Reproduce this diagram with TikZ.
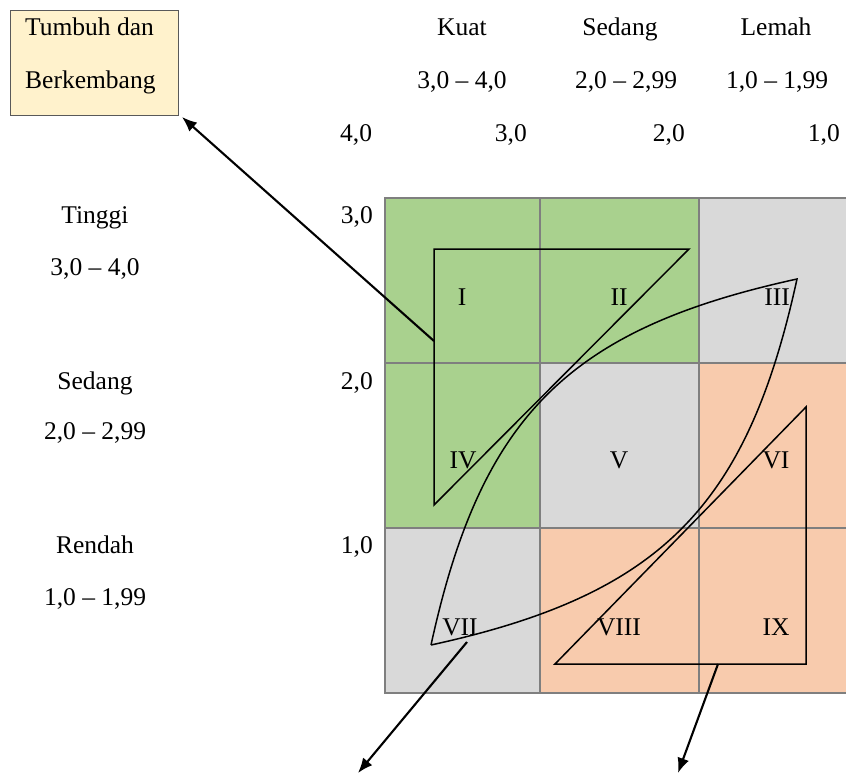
\documentclass[tikz,border=0pt]{standalone}
\usepackage{fontspec}
\setmainfont{Liberation Serif}
\usetikzlibrary{arrows.meta}
\definecolor{cgreen}{HTML}{A9D18E}
\definecolor{cgrey}{HTML}{D9D9D9}
\definecolor{cpeach}{HTML}{F8CBAD}
\definecolor{gridc}{HTML}{7F7F7F}
\definecolor{boxfill}{HTML}{FFF2CC}
\definecolor{boxline}{HTML}{595959}
\begin{document}
\begin{tikzpicture}[x=1pt,y=-1pt,
  font=\fontsize{25.5}{30}\selectfont,
  lbl/.style={inner sep=0pt, anchor=base},
  lblr/.style={inner sep=0pt, anchor=base east},
  lbll/.style={inner sep=0pt, anchor=base west},
  cell/.style={draw=gridc, line width=1.6pt},
  outline/.style={line width=1.5pt, line join=miter},
  arr/.style={line width=2.1pt, -{Latex[length=15pt,width=12pt]}}]
\useasboundingbox (0,0) rectangle (846,774);

% grid cells
\begin{scope}
\clip (0,0) rectangle (846,774);
\filldraw[cell, fill=cgreen] (385,198) rectangle (540,363);
\filldraw[cell, fill=cgreen] (540,198) rectangle (699,363);
\filldraw[cell, fill=cgrey]  (699,198) rectangle (858,363);
\filldraw[cell, fill=cgreen] (385,363) rectangle (540,528);
\filldraw[cell, fill=cgrey]  (540,363) rectangle (699,528);
\filldraw[cell, fill=cpeach] (699,363) rectangle (858,528);
\filldraw[cell, fill=cgrey]  (385,528) rectangle (540,693);
\filldraw[cell, fill=cpeach] (540,528) rectangle (699,693);
\filldraw[cell, fill=cpeach] (699,528) rectangle (858,693);
\end{scope}

% legend box
\node[draw=boxline, fill=boxfill, line width=0.9pt, minimum width=168pt, minimum height=105pt, inner sep=0pt, anchor=north west] (box) at (10,10) {};
\node[lbll] (boxt1) at (25,35) {Tumbuh dan};
\node[lbll] (boxt2) at (25,88) {Berkembang};

% column headers
\node[lbl] (hk) at (462,35) {Kuat};
\node[lbl] (hs) at (620,35) {Sedang};
\node[lbl] (hl) at (776,35) {Lemah};
\node[lbl] (rk) at (462,88) {3,0 – 4,0};
\node[lbl] (rs) at (626,88) {2,0 – 2,99};
\node[lbl] (rl) at (777,88) {1,0 – 1,99};

% top axis numbers
\node[lbll] (t4) at (340,141) {4,0};
\node[lblr] (t3) at (527,141) {3,0};
\node[lblr] (t2) at (685,141) {2,0};
\node[lblr] (t1) at (840,141) {1,0};

% row labels
\node[lbl] (rt) at (95,223) {Tinggi};
\node[lbl] (rtr) at (95,275) {3,0 – 4,0};
\node[lbl] (rsd) at (95,389) {Sedang};
\node[lbl] (rsdr) at (95,439) {2,0 – 2,99};
\node[lbl] (rr) at (95,553) {Rendah};
\node[lbl] (rrr) at (95,605) {1,0 – 1,99};

% left axis numbers
\node[lblr] (l3) at (373,223) {3,0};
\node[lblr] (l2) at (373,389) {2,0};
\node[lblr] (l1) at (373,553) {1,0};

% roman numerals
\node[lbl] (c1) at (462,305.5) {I};
\node[lbl] (c2) at (619,305.5) {II};
\node[lbl] (c3) at (777,305.5) {III};
\node[lbl] (c4) at (463,468.5) {IV};
\node[lbl] (c5) at (619,468.5) {V};
\node[lbl] (c6) at (776,468.5) {VI};
\node[lbl] (c7) at (460,635.5) {VII};
\node[lbl] (c8) at (619,635.5) {VIII};
\node[lbl] (c9) at (776,635.5) {IX};

% shapes
\coordinate (ta) at (434,249);
\coordinate (tb) at (689,249);
\coordinate (tc) at (434,505);
\draw[outline] (ta) -- (tb) -- (tc) -- cycle;

\coordinate (ua) at (806,407);
\coordinate (ub) at (806,664);
\coordinate (uc) at (555,664);
\draw[outline] (ua) -- (ub) -- (uc) -- cycle;

\coordinate (la) at (431,645);
\coordinate (lb) at (797,279);
\draw[outline] (la) .. controls (481,416) and (568,329) .. (lb)
               .. controls (747,508) and (660,595) .. (la);

% arrows
\coordinate (a1s) at (434,341);
\coordinate (a1e) at (182,117);
\coordinate (a2s) at (467,642);
\coordinate (a2e) at (358,773);
\coordinate (a3s) at (718,664);
\coordinate (a3e) at (678,773);
\draw[arr] (a1s) -- (a1e);
\draw[arr] (a2s) -- (a2e);
\draw[arr] (a3s) -- (a3e);
\end{tikzpicture}
\end{document}
